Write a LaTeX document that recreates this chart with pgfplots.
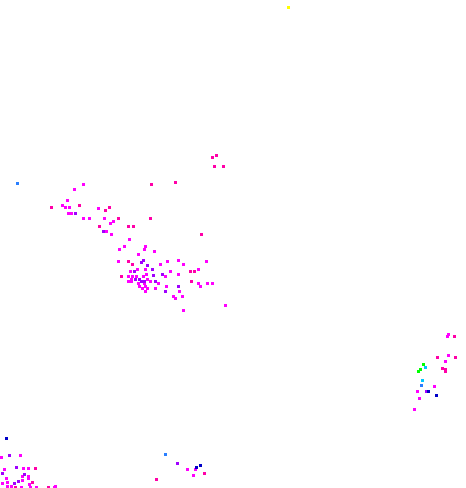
\documentclass[border=0pt]{standalone}
\usepackage{pgfplots}
\pgfplotsset{compat=1.18}
\definecolor{cmag}{HTML}{FF00FF}
\definecolor{cpink}{HTML}{FF00A8}
\definecolor{cpurp}{HTML}{A000FF}
\definecolor{cnavy}{HTML}{0000C8}
\definecolor{cblue}{HTML}{2A7FFF}
\definecolor{ccyan}{HTML}{00C8FF}
\definecolor{cgreen}{HTML}{00FF00}
\definecolor{cyell}{HTML}{FFFF00}
\begin{document}
\begin{tikzpicture}
\begin{axis}[
  scale only axis, width=465bp, height=488bp,
  xmin=0, xmax=465, ymin=0, ymax=488, y dir=reverse,
  hide axis, clip=false,
  every axis plot/.append style={only marks, mark=square*, mark size=1bp, mark options={draw=none}},
]
\path (rel axis cs:0,0) rectangle (rel axis cs:1,1);
% magenta
\addplot[cmag] coordinates {
(82,184)(73,189)(66,200)(61,205)(64,207)(68,207)(97,208)(67,213)(70,213)
(82,218)(88,218)(103,218)(112,221)(109,223)(105,231)(110,234)(128,239)
(144,246)(123,246)(118,249)(143,249)(153,251)(137,254)(117,261)(159,264)
(166,261)(177,260)(182,264)(205,261)(129,271)(136,269)(144,269)(169,271)
(197,269)(127,276)(131,276)(135,276)(142,276)(145,274)(164,276)(177,274)
(130,279)(127,281)(130,281)(146,279)(149,281)(137,283)(143,283)(157,283)
(197,283)(206,283)(211,283)(138,286)(144,286)(165,286)(199,286)(141,288)
(146,288)(154,288)(144,291)(178,291)(172,296)(181,296)(174,298)(224,305)
(182,310)
(446,336)(447,334)(447,355)(444,361)(433,386)(416,391)(418,398)(413,409)
(19,455)(0,457)(3,469)(22,468)(27,468)(21,476)(27,476)(27,478)(5,478)
(6,482)(21,480)(1,483)(28,484)(6,486)(10,486)(20,487)(29,487)(35,487)
(53,487)(54,486)(186,469)(194,469)(192,475)
};
% pink
\addplot[cpink] coordinates {
(211,157)(215,155)(213,166)(222,166)(150,184)(174,182)(50,207)(78,205)
(108,207)(104,210)(117,218)(149,218)(98,226)(127,226)(132,226)(200,234)
(127,261)(131,264)(189,271)(193,271)(120,276)(190,281)
(453,336)(436,357)(454,357)(441,368)(444,369)(444,371)
(34,468)(31,482)(14,487)(47,487)(203,473)(155,479)
};
% purple
\addplot[cpurp] coordinates {
(74,213)(102,231)(142,260)(140,262)(146,265)(151,269)(133,271)(152,275)
(161,274)(134,279)(138,279)(140,281)(143,281)(154,281)(177,286)(164,291)
(425,391)(8,455)(15,467)(1,473)(23,474)(13,483)(17,481)(176,463)
};
% navy / blue
\addplot[cnavy] coordinates {(427,391)(435,395)(5,438)(199,465)(195,467)};
\addplot[cblue] coordinates {(16,183)(164,454)(420,385)};
\addplot[ccyan] coordinates {(424,367)(421,380)};
\addplot[cgreen] coordinates {(422,364)(419,369)(417,371)};
\addplot[cyell] coordinates {(287,7)};
\end{axis}
\end{tikzpicture}
\end{document}
